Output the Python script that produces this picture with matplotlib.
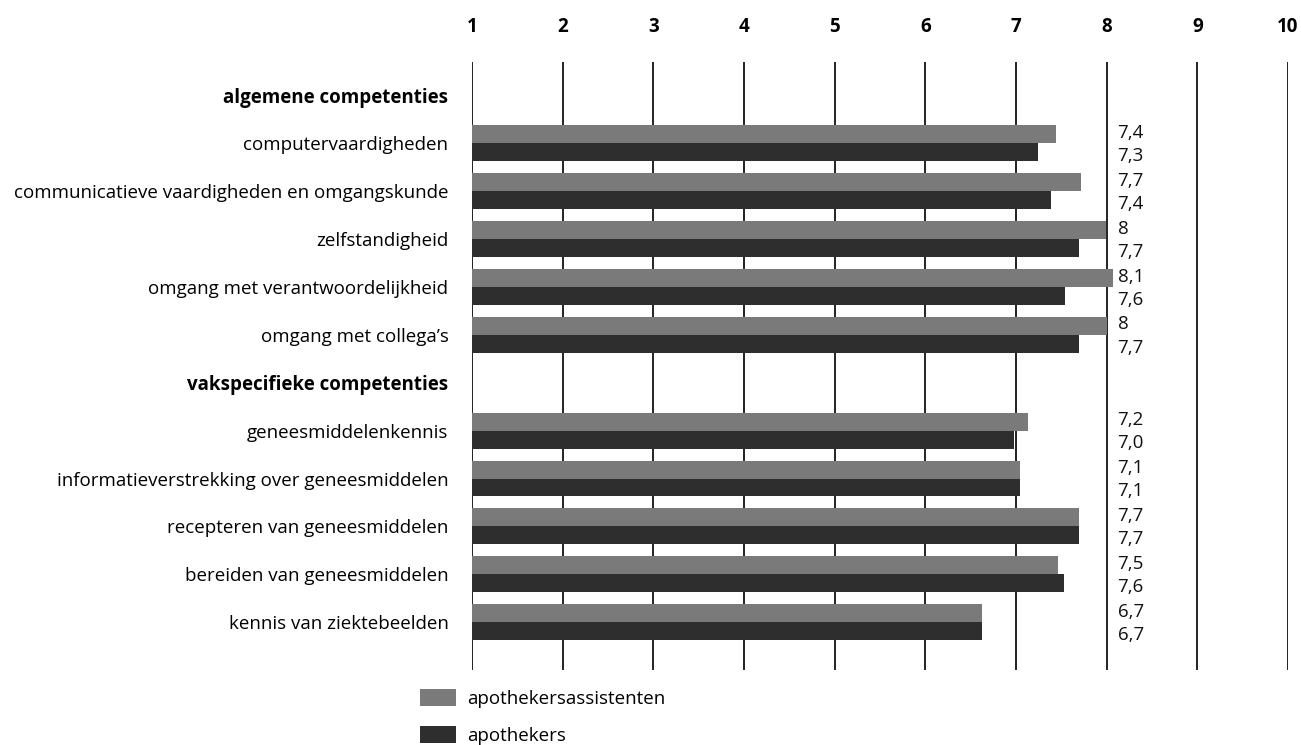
import numpy as np
import matplotlib
matplotlib.use('Agg')
import matplotlib.pyplot as plt
from matplotlib.patches import Patch

plt.rcParams['font.family'] = ['Open Sans', 'DejaVu Sans']

# rows top to bottom, including the two section headers
rows = ['algemene competenties', 'computervaardigheden',
        'communicatieve vaardigheden en omgangskunde', 'zelfstandigheid',
        'omgang met verantwoordelijkheid', 'omgang met collega\u2019s',
        'vakspecifieke competenties', 'geneesmiddelenkennis',
        'informatieverstrekking over geneesmiddelen', 'recepteren van geneesmiddelen',
        'bereiden van geneesmiddelen', 'kennis van ziektebeelden']
headers = ['algemene competenties', 'vakspecifieke competenties']

items = [r for r in rows if r not in headers]
assistenten = [7.44, 7.72, 7.99, 8.07, 8.0, 7.13, 7.04, 7.70, 7.46, 6.62]
apothekers = [7.24, 7.39, 7.70, 7.54, 7.69, 6.98, 7.04, 7.70, 7.53, 6.62]
lab_assistenten = ['7,4', '7,7', '8', '8,1', '8', '7,2', '7,1', '7,7', '7,5', '6,7']
lab_apothekers = ['7,3', '7,4', '7,7', '7,6', '7,7', '7,0', '7,1', '7,7', '7,6', '6,7']
ticks = list(range(1, 11))

c_grey = '#7a7a7a'
c_dark = '#2e2e2e'
fs = 13.5

fig = plt.figure(figsize=(13.01, 7.45), dpi=100)
ax = fig.add_axes([472 / 1301, 1 - 670 / 745, (1288 - 472) / 1301, (670 - 62) / 745])

y = np.array([rows.index(it) for it in items])
h = 0.375
ax.barh(y - h / 2, np.array(assistenten) - 1, left=1, height=h, color=c_grey, zorder=3)
ax.barh(y + h / 2, np.array(apothekers) - 1, left=1, height=h, color=c_dark, zorder=3)

for yi, la, lb in zip(y, lab_assistenten, lab_apothekers):
    ax.text(8.12, yi - h / 2 - 0.03, la, ha='left', va='center', fontsize=fs, color='#111111')
    ax.text(8.12, yi + h / 2 + 0.08, lb, ha='left', va='center', fontsize=fs, color='#111111')

ax.set_xlim(1, 10)
ax.set_ylim(12.0, -0.7)
ax.set_xticks(ticks)
ax.set_xticklabels([str(t) for t in ticks], fontweight='bold', fontsize=fs)
ax.xaxis.tick_top()
ax.tick_params(axis='x', length=0, pad=18)
ax.set_yticks(range(len(rows)))
ax.set_yticklabels(rows, fontsize=fs)
for lbl in ax.get_yticklabels():
    if lbl.get_text() in headers:
        lbl.set_fontweight('bold')
ax.tick_params(axis='y', length=0, pad=17)
ax.grid(axis='x', color='#111111', lw=1.3, zorder=0)
ax.set_axisbelow(True)
for s in ax.spines.values():
    s.set_visible(False)

handles = [Patch(facecolor=c_grey, label='apothekersassistenten'),
           Patch(facecolor=c_dark, label='apothekers')]
fig.legend(handles=handles, loc='upper left', bbox_to_anchor=(0.317, 0.085),
           frameon=False, fontsize=fs, handlelength=1.9, handleheight=1.0,
           labelspacing=0.95, handletextpad=0.6, borderaxespad=0)

fig.savefig('out.png', dpi=100)
